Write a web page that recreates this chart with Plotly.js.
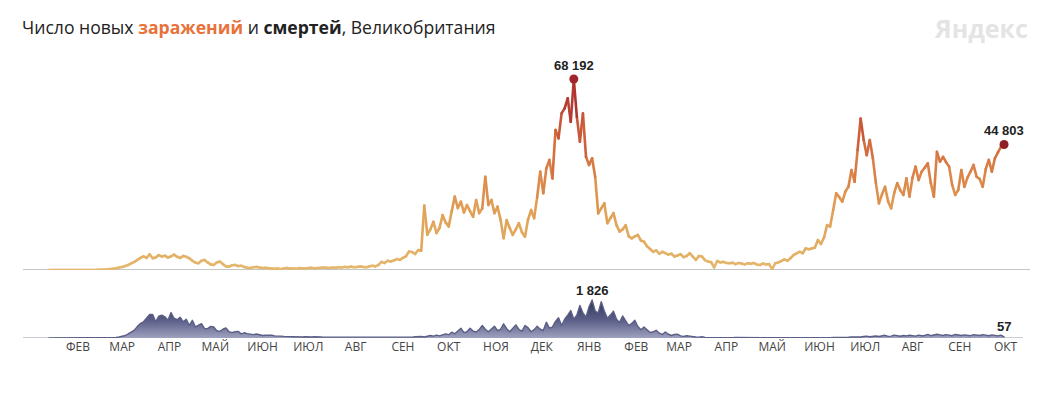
<!DOCTYPE html>
<html><head><meta charset="utf-8">
<script src="https://cdn.plot.ly/plotly-3.0.1.min.js"></script>
<style>
html,body{margin:0;padding:0;background:#fff;}
#chart{width:1050px;height:400px;}
.scatterlayer .js-line{stroke-linecap:round;stroke-linejoin:round;}
</style>
</head><body><div id="chart"></div>
<script>
// ---- data (sampled every 2 days, starting 31 Jan 2020) ----
const startDate = '2020-01-31';
const stepDays = 2;

const cases = [
2,0,1,0,4,0,1,0,0,1,0,0,0,4,7,
10,30,60,120,200,320,450,650,900,1100,1400,1800,2400,2900,3600,
4300,4900,4300,5600,4200,4500,5300,4800,5100,4400,4900,5500,4700,4300,5000,
4700,4200,3300,2600,2400,3300,3600,2700,2000,1800,2700,3000,2100,1300,1200,1700,
1800,1400,1500,1100,800,700,1000,1100,900,700,800,600,500,400,500,
300,600,700,500,600,400,700,600,500,700,800,600,700,800,900,
800,700,900,800,1000,900,1100,1000,1200,1000,1100,1300,1100,1000,1300,1500,
1300,1800,2900,2500,3300,3000,3400,3900,3600,4300,4900,6600,6400,5700,7100,
6900,23000,12600,14500,17200,13200,15000,19600,17000,15500,21000,26200,22100,24400,20500,
23200,21000,19000,25000,20300,22000,33300,23200,25000,20300,22600,18000,11300,17800,15000,
12500,14500,16700,13500,11900,18000,21400,18500,26000,35100,27400,36300,39300,32700,50000,
47000,55900,57700,61300,52900,68192,54700,45800,55900,40400,37500,39900,33300,20200,22000,
23800,16700,18500,20300,16000,13700,14500,16000,12000,11300,12000,12500,10500,10100,8500,
7500,6500,7000,5800,6500,6000,5500,5800,4800,5200,5600,4600,5000,6000,4800,
3600,5000,4800,3500,3000,2800,900,3200,2700,2900,2500,2400,2600,2100,2500,
2300,2000,2400,2200,2500,1900,1800,2300,2000,2100,300,2400,2700,3200,3800,
3300,4200,5300,5900,6500,6000,7700,7400,7700,8000,10700,9300,11600,16000,15500,
21400,27400,26000,24400,28000,29700,35700,31500,42800,54100,46400,41000,46400,39900,31000,
23800,27000,29700,24500,22000,27500,31000,28500,26800,32700,26200,33000,36900,32100,35100,
36500,38100,31000,26200,42200,38700,40400,38500,36900,30300,26800,28600,35700,29700,33000,
35100,37500,33300,32500,29700,36000,39300,35100,39900,42000,44000,44803
];

const deaths = [
0,0,0,0,0,0,0,0,0,0,0,0,0,0,0,
0,0,1,2,4,8,16,30,50,90,120,200,280,380,560,
700,780,950,1130,1130,780,1050,1100,1020,850,1220,950,880,1000,780,
900,610,850,530,620,690,450,450,560,530,350,320,420,480,300,260,
300,320,200,250,210,180,160,190,160,120,130,140,130,100,110,
90,80,70,90,60,70,60,50,60,40,50,60,40,50,40,
40,30,50,40,30,40,30,40,20,30,40,30,30,20,30,30,
20,30,30,20,30,30,20,30,40,30,40,50,40,60,70,
70,50,80,120,90,140,100,150,200,160,280,200,320,470,260,
300,470,330,290,400,600,420,300,460,570,350,420,680,450,300,
470,630,420,320,600,500,300,400,570,420,360,760,480,520,800,
970,600,900,1100,1320,900,1100,1560,1200,1000,1500,1826,1300,1200,1740,
1300,950,1100,1290,900,750,1060,800,600,700,850,550,400,530,380,
260,300,370,230,170,290,180,120,170,180,100,80,110,90,60,
50,40,60,30,25,40,20,30,25,20,30,20,15,25,20,
15,20,10,15,20,10,15,12,10,15,8,12,10,12,8,
10,12,8,15,12,10,15,18,12,20,15,18,22,15,20,
25,20,30,40,25,35,50,40,60,45,70,90,60,80,95,
70,100,130,80,90,140,100,85,120,100,130,110,90,140,110,
120,170,110,130,180,150,120,160,140,110,170,160,120,150,130,
110,160,140,120,160,130,110,150,120,100,140,57
];

const monthTicks = ['2020-02-19','2020-03-19','2020-04-19','2020-05-19','2020-06-19','2020-07-19','2020-08-19','2020-09-19','2020-10-19','2020-11-19','2020-12-19','2021-01-19','2021-02-19','2021-03-19','2021-04-19','2021-05-19','2021-06-19','2021-07-19','2021-08-19','2021-09-19','2021-10-19'];
const monthLabels = ['ФЕВ','МАР','АПР','МАЙ','ИЮН','ИЮЛ','АВГ','СЕН','ОКТ','НОЯ','ДЕК','ЯНВ','ФЕВ','МАР','АПР','МАЙ','ИЮН','ИЮЛ','АВГ','СЕН','ОКТ'];

const titleText = 'Число новых <b><span style="color:#e8723a">заражений</span></b> и <b>смертей</b>, Великобритания';
const logoText = 'Яндекс';

// ---- build ----
const n = Math.min(cases.length, deaths.length);
const t0 = new Date(startDate + 'T00:00:00Z');
const xs = [];
for (let i = 0; i < n; i++) {
  const d = new Date(t0.getTime() + i * stepDays * 86400000);
  xs.push(d.toISOString().slice(0, 10));
}
const fmt = v => String(v).replace(/\B(?=(\d{3})+(?!\d))/g, ' ');

const maxC = Math.max(...cases.slice(0, n));
const stops = [[0,[228,184,110]],[0.3,[224,161,86]],[0.5,[219,132,72]],[0.7,[208,100,60]],[0.85,[186,64,52]],[1,[158,36,42]]];
function colorAt(f){
  f = Math.max(0, Math.min(1, f));
  for (let k = 1; k < stops.length; k++) {
    if (f <= stops[k][0]) {
      const a = stops[k-1], b = stops[k];
      const t = (f - a[0]) / (b[0] - a[0]);
      const c = a[1].map((v, j) => Math.round(v + (b[1][j] - v) * t));
      return 'rgb(' + c.join(',') + ')';
    }
  }
  return 'rgb(' + stops[stops.length-1][1].join(',') + ')';
}

const NB = 30;
const bins = Array.from({length: NB}, () => ({x: [], y: []}));
for (let i = 0; i < n - 1; i++) {
  const m = (cases[i] + cases[i+1]) / 2;
  const b = Math.min(NB - 1, Math.floor(m / maxC * NB));
  bins[b].x.push(xs[i], xs[i+1], null);
  bins[b].y.push(cases[i], cases[i+1], null);
}

const traces = [];
// deaths area
traces.push({
  type: 'scatter', mode: 'lines', x: xs, y: deaths.slice(0, n), xaxis: 'x', yaxis: 'y2',
  fill: 'tozeroy',
  fillgradient: {type: 'vertical', start: 0, stop: 1826, colorscale: [[0, '#9fa1bf'], [0.45, '#5d6089'], [1, '#2f3257']]},
  line: {color: '#5b5e85', width: 1.4},
  hoverinfo: 'skip'
});
// cases gradient line
bins.forEach((bn, b) => {
  if (!bn.x.length) return;
  traces.push({
    type: 'scatter', mode: 'lines', x: bn.x, y: bn.y, xaxis: 'x', yaxis: 'y',
    connectgaps: false,
    line: {color: colorAt((b + 0.5) / NB), width: 2.6},
    hoverinfo: 'skip'
  });
});
const peakIdx = cases.indexOf(maxC);
const lastIdx = n - 1;
traces.push({
  type: 'scatter', mode: 'markers', x: [xs[peakIdx], xs[lastIdx]], y: [cases[peakIdx], cases[lastIdx]],
  xaxis: 'x', yaxis: 'y',
  marker: {size: 9, color: ['#a0262b', '#8f1f27']}, hoverinfo: 'skip'
});

const maxD = Math.max(...deaths.slice(0, n));
const dPeakIdx = deaths.indexOf(maxD);

const numFont = {family: 'Liberation Sans, Arial, sans-serif', size: 13, color: '#222'};
const layout = {
  width: 1050, height: 400,
  margin: {l: 23, r: 20, t: 40, b: 62},
  paper_bgcolor: '#fff', plot_bgcolor: '#fff',
  showlegend: false, hovermode: false,
  title: {
    text: titleText, x: 22/1050, xref: 'container', xanchor: 'left',
    y: 1 - 28/400, yref: 'container', yanchor: 'middle',
    font: {family: 'Open Sans, sans-serif', size: 17.6, color: '#222'}
  },
  xaxis: {
    type: 'date', range: ['2020-01-14', '2021-11-04'], anchor: 'y2',
    showgrid: false, zeroline: false, showline: false,
    tickmode: 'array', tickvals: monthTicks, ticktext: monthLabels,
    ticks: '', tickfont: {family: 'Open Sans, sans-serif', size: 12, color: '#444'}
  },
  yaxis: {domain: [0.2282, 1], range: [0, 82110], showgrid: false, zeroline: false, showticklabels: false, showline: false},
  yaxis2: {domain: [0, 0.2], range: [0, 2864], showgrid: false, zeroline: false, showticklabels: false, showline: false},
  shapes: [
    {type: 'line', xref: 'paper', x0: 0, x1: 1, yref: 'y', y0: 0, y1: 0, line: {color: '#8a8a8a', width: 1}, layer: 'below'},
    {type: 'line', xref: 'paper', x0: 0, x1: 0.993, yref: 'y2', y0: 0, y1: 0, line: {color: '#cbccd6', width: 2}, layer: 'below'}
  ],
  annotations: [
    {x: xs[peakIdx], y: cases[peakIdx], xref: 'x', yref: 'y', text: '<b>' + fmt(maxC) + '</b>', showarrow: false, yanchor: 'bottom', yshift: 4, font: numFont},
    {x: xs[lastIdx], y: cases[lastIdx], xref: 'x', yref: 'y', text: '<b>' + fmt(cases[lastIdx]) + '</b>', showarrow: false, yanchor: 'bottom', yshift: 5, font: numFont},
    {x: xs[dPeakIdx], y: maxD, xref: 'x', yref: 'y2', text: '<b>' + fmt(maxD) + '</b>', showarrow: false, yanchor: 'bottom', yshift: 0, font: numFont},
    {x: xs[lastIdx], y: deaths[lastIdx], xref: 'x', yref: 'y2', text: '<b>' + fmt(deaths[lastIdx]) + '</b>', showarrow: false, yanchor: 'bottom', yshift: 1, font: numFont},
    {x: 1, y: (338 - 28) / 298, xref: 'paper', yref: 'paper', xanchor: 'right', yanchor: 'middle', text: '<b>' + logoText + '</b>', showarrow: false,
     font: {family: 'Open Sans, sans-serif', size: 25, color: '#e4e4e4'}}
  ]
};

Plotly.newPlot('chart', traces, layout, {staticPlot: true, displayModeBar: false});
</script>
</body></html>
